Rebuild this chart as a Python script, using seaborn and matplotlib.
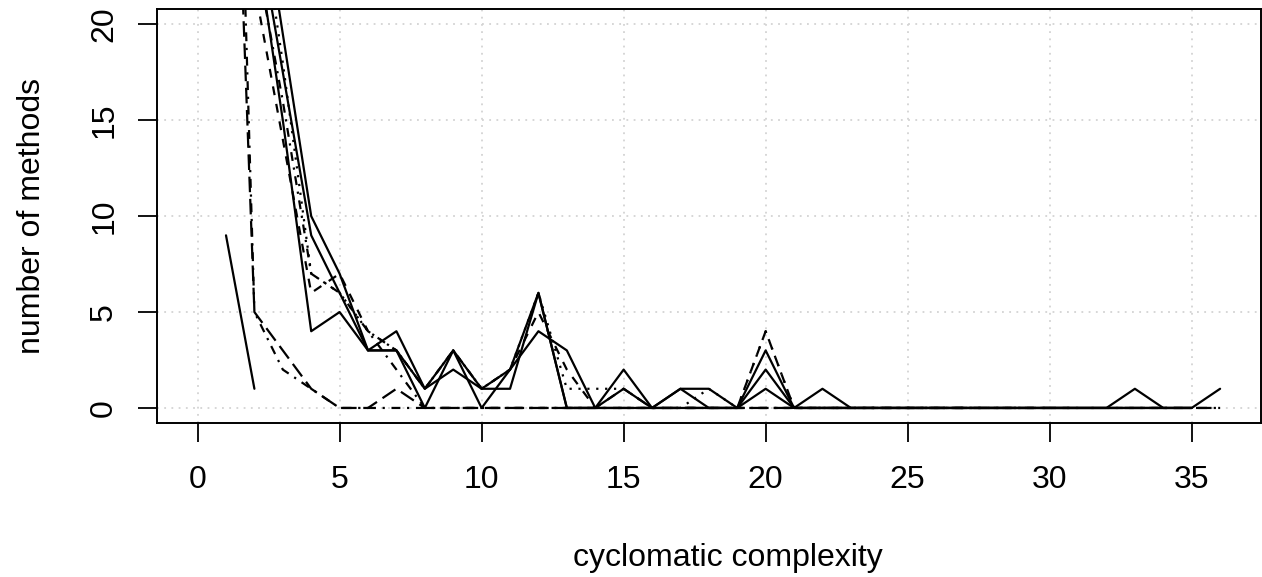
import numpy as np
import pandas as pd
import matplotlib
matplotlib.use("Agg")
import matplotlib.pyplot as plt
import seaborn as sns

nan = np.nan

# x values: cyclomatic complexity
complexity = list(range(1, 37))

# series values (number of methods per complexity)
short_solid = [9, 1] + [nan] * 34
big_dotdash = [55, 5, 2, 1] + [0] * 32
big_longdash = [45, 5, 3, 1, 0, 0, 1] + [0] * 29
solid_a = [90, 29, 19.5, 10, 7, 3, 4, 1, 3, 1, 1, 6, 0, 0, 2, 0, 1, 1, 0, 3, 0, 1,
           0, 0, 0, 0, 0, 0, 0, 0, 0, 0, 1, 0, 0, 1]
solid_b = [80, 26, 17.5, 9, 6, 3, 3, 1, 2, 1, 2, 4, 3, 0, 1, 0, 1, 0, 0, 2, 0, 0,
           0, 0, 0, 0, 0, 0, 0, 0, 0, 0, 0, 0, 0, nan]
solid_c = [75, 25, 15, 4, 5, 3, 3, 0, 3, 0, 2, 6, 0, 0, 0, 0, 0, 0, 0, 1, 0, 0,
           0, 0, 0, 0, 0, 0, 0, 0, 0, 0, 0, 0, 0, nan]
dashed = [60, 22, 14, 6, 7, 4, 3, 1, 3, 1, 2, 5, 2, 0, 1, 0, 0, 0, 0, 4, 0, 0,
          0, 0, 0, 0, 0, 0, 0, 0, 0, nan, nan, nan, nan, nan]
dotted = [85, 28, 18, 7, 6, 4, 3, 1, 3, 1, 2, 6, 1, 1, 1, 0, 0, 1, 0, 4, 0, 0,
          0, 0, 0, 0, 0, 0, 0, nan, nan, nan, nan, nan, nan, nan]
dotdash = [70, 24, 16, 7, 6, 4, 2, 0, 0, 0, 0, 0, 0, 0, 0, 0, 0, 0, 0, 0, 0, 0,
           0, 0, 0, 0, 0, nan, nan, nan, nan, nan, nan, nan, nan, nan]

series = {
    "s1": short_solid, "s2": big_dotdash, "s3": big_longdash,
    "s4": solid_a, "s5": solid_b, "s6": solid_c,
    "s7": dashed, "s8": dotted, "s9": dotdash,
}
x_ticks = [0, 5, 10, 15, 20, 25, 30, 35]
y_ticks = [0, 5, 10, 15, 20]

frames = []
for name, vals in series.items():
    frames.append(pd.DataFrame({"complexity": complexity, "methods": vals, "series": name}))
long = pd.concat(frames, ignore_index=True)

# R line types: 1 solid, 2 dashed, 3 dotted, 4 dotdash, 5 longdash
dash_map = {
    "s1": "", "s2": (1, 3, 4, 3), "s3": (7, 3),
    "s4": "", "s5": "", "s6": "",
    "s7": (4, 4), "s8": (1, 3), "s9": (1, 3, 4, 3),
}

sns.set_style("white")
plt.rcParams["font.family"] = ["Liberation Sans", "DejaVu Sans"]
plt.rcParams["text.color"] = "black"
plt.rcParams["xtick.color"] = "black"
plt.rcParams["ytick.color"] = "black"
plt.rcParams["axes.labelcolor"] = "black"

W, H = 1262, 577
fig = plt.figure(figsize=(W / 100, H / 100), dpi=100)
left, right, top, bottom = 156.7, 1261.0, 9.0, 423.3
ax = fig.add_axes([left / W, 1 - bottom / H, (right - left) / W, (bottom - top) / H])

sns.lineplot(data=long, x="complexity", y="methods", hue="series", style="series",
             palette=["black"] * len(series), dashes=dash_map, linewidth=1.6,
             legend=False, ax=ax, estimator=None, sort=True)

ax.set_xlim(-1.44, 37.44)
ax.set_ylim(-0.8, 20.8)
ax.set_xticks(x_ticks)
ax.set_yticks(y_ticks)
ax.set_xticklabels([str(v) for v in x_ticks])
ax.set_yticklabels([str(v) for v in y_ticks])
ax.grid(True, color="lightgray", linestyle=(0, (1, 3)), linewidth=1.3)
ax.set_axisbelow(True)
for sp in ax.spines.values():
    sp.set_visible(True)
    sp.set_color("black")
    sp.set_linewidth(1.4)
ax.tick_params(axis="both", which="major", direction="out", length=14, width=1.3,
               labelsize=23, color="black", labelcolor="black", bottom=True, left=True)
ax.tick_params(axis="x", pad=16)
ax.tick_params(axis="y", pad=13, labelrotation=90)
for lab in ax.get_yticklabels():
    lab.set_va("center")
ax.set_xlabel("")
ax.set_ylabel("")

fig.text(728 / W, 1 - 558 / H, "cyclomatic complexity", ha="center", va="center",
         fontsize=23, color="black")
fig.text(32 / W, 1 - 216 / H, "number of methods", ha="center", va="center",
         rotation=90, fontsize=23, color="black")

fig.savefig("out.png", dpi=100)
